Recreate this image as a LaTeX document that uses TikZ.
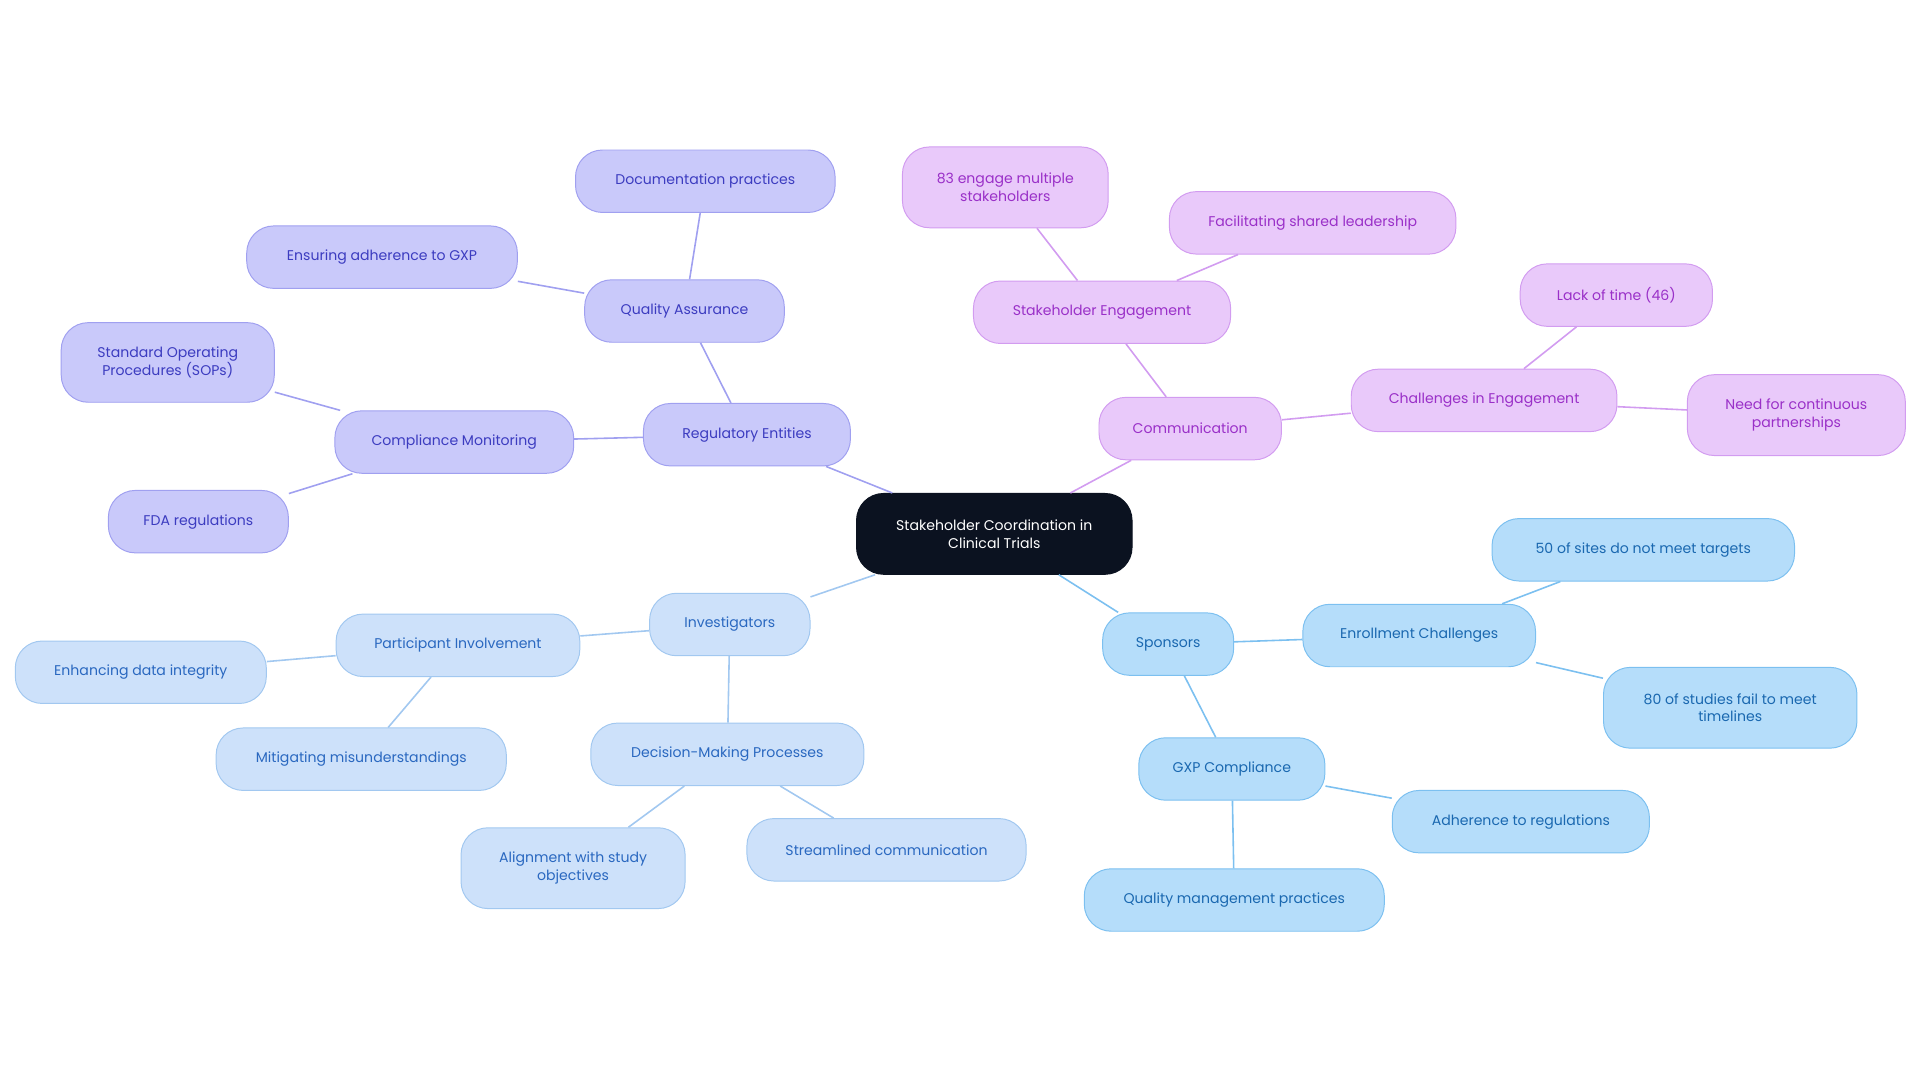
\documentclass[tikz,border=0pt]{standalone}
\usepackage{fontspec}
\setmainfont{Poppins}
\definecolor{rf}{HTML}{C9C9FA}\definecolor{rb}{HTML}{A0A0F0}\definecolor{rt}{HTML}{3C3CC0}
\definecolor{cf}{HTML}{E9C9FA}\definecolor{cb}{HTML}{D29CF0}\definecolor{ct}{HTML}{9A30C8}
\definecolor{sf}{HTML}{B5DDFA}\definecolor{sb}{HTML}{7CC0F0}\definecolor{st}{HTML}{1A68B0}
\definecolor{if}{HTML}{CDE1FA}\definecolor{ib}{HTML}{A2C8F0}\definecolor{it}{HTML}{2A68C0}
\definecolor{rootc}{HTML}{0B1220}
\tikzset{
 box/.style={rounded corners=22pt,draw,line width=0.8pt,align=center,inner sep=0pt,minimum height=51pt,font=\fontsize{11.5}{14.5}\selectfont},
 reg/.style={box,fill=rf,draw=rb,text=rt},
 com/.style={box,fill=cf,draw=cb,text=ct},
 spo/.style={box,fill=sf,draw=sb,text=st},
 inv/.style={box,fill=if,draw=ib,text=it},
 rl/.style={draw=rb,line width=1.3pt},
 cl/.style={draw=cb,line width=1.3pt},
 sl/.style={draw=sb,line width=1.3pt},
 il/.style={draw=ib,line width=1.3pt},
}
\begin{document}
\begin{tikzpicture}[x=1pt,y=-1pt]
\useasboundingbox (0,0) rectangle (1568,884);
\node[box,fill=rootc,draw=rootc,text=white,minimum width=225pt,minimum height=66pt] (root) at (812,436) {Stakeholder Coordination in\\Clinical Trials};
\node[reg,minimum width=169pt] (re) at (610,355) {Regulatory Entities};
\node[reg,minimum width=163pt] (qa) at (559,254) {Quality Assurance};
\node[reg,minimum width=212pt] (dp) at (576,148) {Documentation practices};
\node[reg,minimum width=221pt] (eg) at (312,210) {Ensuring adherence to GXP};
\node[reg,minimum width=195pt] (cm) at (371,361) {Compliance Monitoring};
\node[reg,minimum width=174pt,minimum height=65pt] (sop) at (137,296) {Standard Operating\\Procedures (SOPs)};
\node[reg,minimum width=147pt] (fda) at (162,426) {FDA regulations};
\node[com,minimum width=149pt] (co) at (972,350) {Communication};
\node[com,minimum width=210pt] (se) at (900,255) {Stakeholder Engagement};
\node[com,minimum width=168pt,minimum height=66pt] (e83) at (821,153) {83 engage multiple\\stakeholders};
\node[com,minimum width=234pt] (fs) at (1072,182) {Facilitating shared leadership};
\node[com,minimum width=217pt] (ce) at (1212,327) {Challenges in Engagement};
\node[com,minimum width=157pt] (lt) at (1320,241) {Lack of time (46)};
\node[com,minimum width=178pt,minimum height=66pt] (nc) at (1467,339) {Need for continuous\\partnerships};
\node[spo,minimum width=107pt] (sp) at (954,526) {Sponsors};
\node[spo,minimum width=190pt] (ec) at (1159,519) {Enrollment Challenges};
\node[spo,minimum width=247pt] (s50) at (1342,449) {50 of sites do not meet targets};
\node[spo,minimum width=207pt,minimum height=66pt] (s80) at (1413,578) {80 of studies fail to meet\\timelines};
\node[spo,minimum width=152pt] (gc) at (1006,628) {GXP Compliance};
\node[spo,minimum width=210pt] (ar) at (1242,671) {Adherence to regulations};
\node[spo,minimum width=245pt] (qm) at (1008,735) {Quality management practices};
\node[inv,minimum width=131pt] (iv) at (596,510) {Investigators};
\node[inv,minimum width=199pt] (pi) at (374,527) {Participant Involvement};
\node[inv,minimum width=205pt] (ed) at (115,549) {Enhancing data integrity};
\node[inv,minimum width=237pt] (mm) at (295,620) {Mitigating misunderstandings};
\node[inv,minimum width=223pt] (dm) at (594,616) {Decision-Making Processes};
\node[inv,minimum width=183pt,minimum height=66pt] (al) at (468,709) {Alignment with study\\objectives};
\node[inv,minimum width=228pt] (sc) at (724,694) {Streamlined communication};
\draw[rl] (root) -- (re); \draw[rl] (re) -- (qa); \draw[rl] (qa) -- (dp); \draw[rl] (qa) -- (eg);
\draw[rl] (re) -- (cm); \draw[rl] (cm) -- (sop); \draw[rl] (cm) -- (fda);
\draw[cl] (root) -- (co); \draw[cl] (co) -- (se); \draw[cl] (se) -- (e83); \draw[cl] (se) -- (fs);
\draw[cl] (co) -- (ce); \draw[cl] (ce) -- (lt); \draw[cl] (ce) -- (nc);
\draw[sl] (root) -- (sp); \draw[sl] (sp) -- (ec); \draw[sl] (ec) -- (s50); \draw[sl] (ec) -- (s80);
\draw[sl] (sp) -- (gc); \draw[sl] (gc) -- (ar); \draw[sl] (gc) -- (qm);
\draw[il] (root) -- (iv); \draw[il] (iv) -- (pi); \draw[il] (pi) -- (ed); \draw[il] (pi) -- (mm);
\draw[il] (iv) -- (dm); \draw[il] (dm) -- (al); \draw[il] (dm) -- (sc);
\end{tikzpicture}
\end{document}
